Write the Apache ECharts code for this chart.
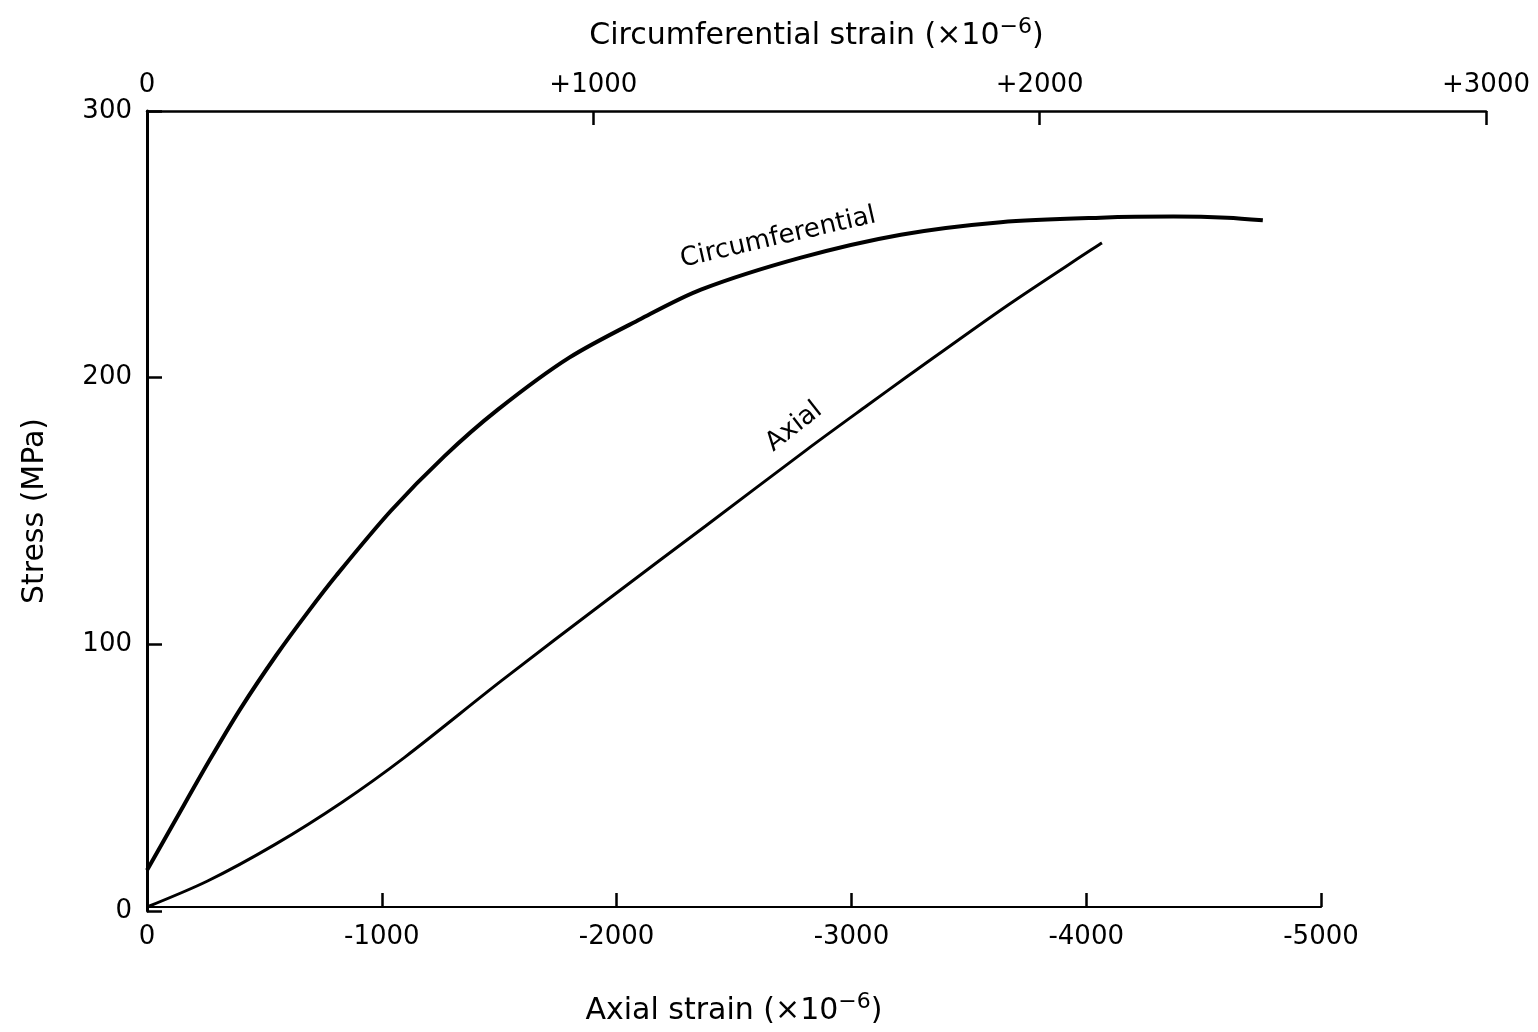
<!DOCTYPE html>
<html>
<head>
<meta charset="utf-8">
<script src="https://cdn.jsdelivr.net/npm/echarts@6/dist/echarts.min.js"></script>
<style>
  html, body { margin: 0; background: #fff; }
  #chart { width: 1538px; height: 1032px; }
</style>
</head>
<body>
<div id="chart"></div>
<script>
// circumferential strain (x10^-6, top axis) vs stress (MPa)
const circStrain = [0, 60, 140, 210, 290, 360, 425, 546, 666, 786, 946, 1106, 1241, 1465, 1689, 1913, 2137, 2300, 2420, 2500];
const circStress = [15.3, 33, 56.5, 76, 96, 112, 126, 150, 170.5, 188, 207.5, 222, 233, 245, 253.6, 258.3, 260, 260.4, 260, 259];

// axial strain (x10^-6, bottom axis) vs stress (MPa)
const axialStrain = [0, -258, -544, -831, -1100, -1510, -1967, -2379, -2809, -3067, -3239, -3669, -4067];
const axialStress = [0, 9.8, 23.5, 39.5, 56.6, 85.3, 116.2, 143.6, 172.3, 189, 200, 227, 250.3];

// curve labels: [text, strain, stress, rotation deg, series index]
const curveLabels = [
  ['Circumferential', 1414, 252.5, 13, 0],
  ['Axial', -2756, 181, 38, 1]
];

const font = '"DejaVu Sans", sans-serif';
const ink = '#000';

const chart = echarts.init(document.getElementById('chart'));

const pairs = (xs, ys) => xs.map((x, i) => [x, ys[i]]);

const axisCommon = {
  axisLine: { onZero: false, lineStyle: { color: ink, width: 2.5 } },
  axisTick: { inside: true, length: 14, lineStyle: { color: ink, width: 2.5 } },
  splitLine: { show: false },
  axisLabel: { color: ink, fontFamily: font, fontSize: 26 }
};

const nameRich = {
  n: { fontFamily: font, fontSize: 30, color: ink, lineHeight: 40 },
  sup: { fontFamily: font, fontSize: 22, color: ink, verticalAlign: 'top', lineHeight: 40, padding: [0, 0, 14, 0] }
};

chart.setOption({
  backgroundColor: '#fff',
  animation: false,
  grid: [
    { left: 147, right: 52, top: 111, bottom: 121 },
    { left: 147, right: 217, top: 111, bottom: 121 }
  ],
  xAxis: [
    {
      ...axisCommon,
      type: 'value',
      gridIndex: 0,
      position: 'top',
      min: 0,
      max: 3000,
      interval: 1000,
      axisLabel: { ...axisCommon.axisLabel, margin: 13, formatter: v => (v === 0 ? '0' : '+' + v) },
      name: '{n|Circumferential strain (×10}{sup|−6}{n|)}',
      nameLocation: 'middle',
      nameGap: 55,
      nameTextStyle: { rich: nameRich }
    },
    {
      ...axisCommon,
      type: 'value',
      gridIndex: 1,
      position: 'bottom',
      inverse: true,
      min: -5000,
      max: 0,
      interval: 1000,
      axisLine: { onZero: false, lineStyle: { color: ink, width: 2.2 } },
      axisLabel: { ...axisCommon.axisLabel, margin: 17, formatter: v => (v === 0 ? '0' : '-' + Math.abs(v)) },
      name: '{n|Axial strain (×10}{sup|−6}{n|)}',
      nameLocation: 'middle',
      nameGap: 84,
      nameTextStyle: { rich: nameRich }
    }
  ],
  yAxis: [
    {
      ...axisCommon,
      type: 'value',
      gridIndex: 0,
      min: 0,
      max: 300,
      interval: 100,
      axisLine: { show: true, onZero: false, lineStyle: { color: ink, width: 3 } },
      axisTick: { inside: true, length: 15, lineStyle: { color: ink, width: 2.5 } },
      axisLabel: { ...axisCommon.axisLabel, margin: 15 },
      name: 'Stress (MPa)',
      nameLocation: 'middle',
      nameGap: 97,
      nameTextStyle: { fontFamily: font, fontSize: 30, color: ink }
    },
    {
      type: 'value',
      gridIndex: 1,
      min: 0,
      max: 300,
      interval: 100,
      show: false
    }
  ],
  series: [
    {
      name: 'Circumferential',
      type: 'line',
      xAxisIndex: 0,
      yAxisIndex: 0,
      data: pairs(circStrain, circStress),
      smooth: 0.3,
      symbol: 'none',
      lineStyle: { color: ink, width: 4 }
    },
    {
      name: 'Axial',
      type: 'line',
      xAxisIndex: 1,
      yAxisIndex: 1,
      data: pairs(axialStrain, axialStress),
      smooth: 0.3,
      symbol: 'none',
      lineStyle: { color: ink, width: 3 }
    }
  ]
});

// place the curve labels from data coordinates
chart.setOption({
  graphic: curveLabels.map(([text, x, y, deg, si]) => {
    const p = chart.convertToPixel({ seriesIndex: si }, [x, y]);
    return {
      type: 'text',
      x: p[0],
      y: p[1],
      rotation: deg * Math.PI / 180,
      style: {
        text: text,
        x: 0,
        y: 0,
        align: 'center',
        verticalAlign: 'middle',
        font: '26px ' + font,
        fill: ink
      }
    };
  })
});
</script>
</body>
</html>
